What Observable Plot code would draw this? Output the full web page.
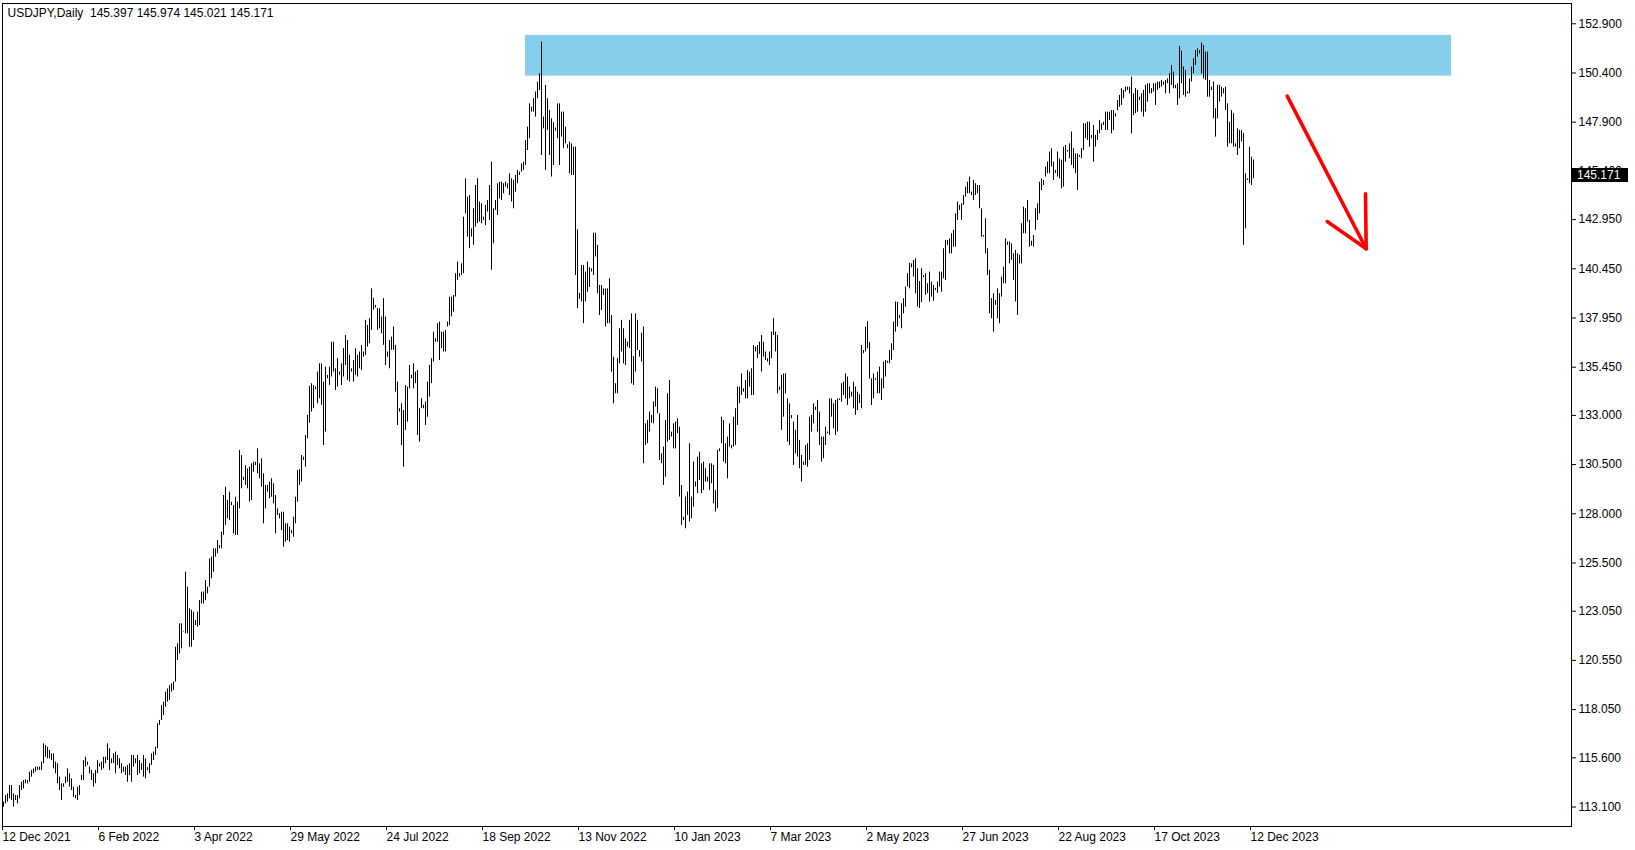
<!DOCTYPE html>
<html><head><meta charset="utf-8">
<script src="https://cdn.jsdelivr.net/npm/d3@7"></script>
<script src="https://cdn.jsdelivr.net/npm/@observablehq/plot@0.6"></script>
<style>
html,body{margin:0;padding:0;background:#fff;}
#chart{width:1635px;height:850px;overflow:hidden;}
svg text{white-space:pre;}
</style></head><body><div id="chart"></div>
<script>
// ---- data ----
const symbol = "USDJPY,Daily";
const lastBar = {open:145.397, high:145.974, low:145.021, close:145.171};

// daily highs / lows, one per bar, from 12 Dec 2021 onward
const highs = [
113.35,113.69,113.77,114.19,114.19,113.77,113.69,113.69,114.19,114.36,114.45,114.48,
114.45,114.87,114.96,115.04,115.13,115.13,115.13,115.38,116.31,116.23,116.14,115.97,
115.80,115.80,115.38,115.30,114.62,114.28,114.28,114.62,115.04,114.79,114.53,114.11,
113.69,114.11,114.19,114.70,115.46,115.63,115.38,115.13,114.96,114.79,114.96,115.46,
115.30,115.38,115.63,115.63,116.31,116.06,115.55,115.80,115.89,115.72,115.55,115.30,
115.13,115.13,115.21,115.30,115.72,115.72,115.55,115.72,115.46,115.30,115.72,115.55,
115.10,115.30,115.80,115.89,116.14,117.33,117.50,118.26,118.43,118.94,119.10,119.27,
119.36,119.44,121.22,121.39,122.41,122.41,122.02,125.03,124.27,123.17,123.09,123.00,
122.58,123.00,123.59,124.02,124.02,124.61,124.27,125.71,125.80,126.22,126.22,126.64,
126.39,127.07,128.93,129.35,128.68,129.10,128.59,128.42,128.84,128.59,131.22,130.96,
129.86,130.45,130.28,130.37,130.54,130.62,130.62,131.30,130.54,130.79,130.03,129.44,
129.44,129.61,129.78,129.52,128.93,128.25,128.00,128.08,128.08,127.49,127.49,127.32,
127.15,127.83,128.84,130.20,130.24,130.96,130.88,131.98,133.00,134.48,134.61,134.52,
134.44,135.20,135.62,135.62,134.69,135.45,135.03,135.45,136.72,136.72,135.37,135.88,
135.20,135.62,136.39,137.06,136.81,136.05,135.37,135.79,136.39,136.05,136.22,136.56,
136.22,137.83,137.57,137.91,139.43,138.95,138.59,138.42,138.42,138.00,138.93,138.00,
136.22,136.81,136.98,137.49,136.56,134.69,133.34,133.59,133.25,134.52,134.44,135.54,
135.03,135.62,135.20,135.28,133.34,133.85,133.51,133.68,134.69,135.54,135.88,137.23,
136.89,137.66,137.74,137.23,137.23,137.32,137.74,139.01,139.01,139.09,140.20,140.79,
140.20,140.70,143.07,145.02,144.09,144.17,142.48,143.50,144.68,145.02,143.84,143.75,
143.07,143.67,143.92,144.68,145.87,143.50,143.92,144.77,144.85,144.85,144.77,144.85,
144.77,145.28,145.02,144.94,145.19,145.45,145.36,145.78,145.87,146.97,147.65,148.83,
148.66,149.09,149.43,149.93,150.36,151.97,148.16,149.77,149.09,148.49,148.07,147.87,
147.60,148.83,148.83,148.41,148.41,147.65,146.75,146.89,146.80,146.63,146.63,142.43,
139.20,140.62,140.62,140.28,140.79,140.50,140.45,142.26,142.26,141.64,139.60,139.60,
139.43,139.43,139.43,139.94,138.08,135.96,134.61,135.88,137.40,137.83,137.40,136.89,
136.72,137.83,138.16,135.99,138.16,137.83,136.30,137.18,137.49,132.57,132.74,133.17,
133.00,133.68,134.44,134.35,133.08,131.05,131.39,132.74,134.10,134.78,132.15,132.57,
132.66,132.83,132.40,129.44,127.83,128.85,129.10,131.56,128.85,130.63,129.61,130.88,
131.13,130.54,130.63,130.29,129.86,130.54,130.54,130.46,129.19,131.22,131.30,132.91,
132.74,131.56,131.90,132.57,131.47,132.91,133.34,134.44,134.44,135.11,134.35,134.78,
135.28,135.20,135.37,136.55,136.47,136.55,136.72,137.06,136.72,136.22,135.88,136.22,
137.23,137.91,137.23,137.06,134.44,135.03,135.11,135.11,133.84,133.59,132.99,132.66,
132.24,133.00,131.73,130.97,130.63,131.47,131.56,132.91,133.00,133.59,133.42,133.76,
133.17,131.90,131.90,132.40,132.15,133.84,133.84,133.59,133.76,133.84,133.84,134.61,
134.69,135.11,134.95,134.44,134.18,134.69,134.44,134.18,134.05,136.55,136.30,137.49,
137.77,136.70,134.86,135.11,134.86,135.20,135.45,134.86,135.71,135.79,135.75,136.30,
136.64,137.74,138.76,138.75,138.08,138.67,138.93,139.52,140.20,140.73,140.70,140.87,
140.96,140.45,139.80,140.45,140.10,140.20,139.69,140.28,139.77,139.60,139.45,139.77,
140.28,140.28,141.47,141.89,141.89,141.97,142.23,142.40,143.24,143.84,143.67,143.75,
144.17,144.60,144.85,145.11,144.35,144.94,144.77,144.68,144.68,143.50,142.14,142.99,
141.47,140.37,138.93,139.18,138.84,139.43,139.18,140.03,140.53,141.97,141.81,141.81,
141.72,141.21,141.38,141.21,141.13,142.74,143.58,143.50,143.92,142.91,141.85,142.14,
143.50,143.75,144.85,145.02,144.94,145.62,145.87,146.38,146.55,145.87,145.45,146.38,
146.04,145.96,146.63,146.72,146.46,146.80,147.40,146.55,146.29,146.29,146.21,146.55,
147.82,147.82,147.90,147.90,147.23,147.73,147.23,147.48,147.99,147.82,147.90,148.41,
148.41,148.41,148.49,148.49,148.33,149.00,149.26,149.60,149.51,149.68,149.68,149.68,
150.19,149.34,149.60,149.51,149.17,149.34,149.51,149.77,149.85,149.85,149.60,149.85,
149.85,149.94,149.94,150.02,149.94,150.02,150.10,150.36,150.78,150.44,149.77,149.85,
151.75,151.51,150.70,150.53,149.43,150.10,150.70,151.12,151.54,151.63,151.54,151.92,
151.80,151.46,151.46,150.02,149.68,149.94,148.58,149.77,149.77,149.68,149.60,149.68,
148.83,147.90,148.49,148.33,146.80,147.56,147.48,147.48,147.31,145.28,145.02,146.63,
146.12,145.974];

const lows = [
113.09,113.26,113.35,113.52,113.43,113.09,113.43,113.26,113.52,113.94,114.02,114.28,
114.28,114.36,114.62,114.79,114.87,114.96,114.96,114.96,115.30,115.63,115.55,115.55,
115.46,115.04,114.79,114.28,113.94,113.43,114.11,114.28,114.36,114.11,113.94,113.60,
113.52,113.43,113.69,114.45,114.45,115.13,115.21,114.79,114.45,114.11,114.28,114.79,
115.13,114.96,115.04,115.30,115.46,114.96,115.30,115.30,114.79,115.21,115.04,114.79,
114.87,114.70,114.36,114.70,114.36,115.13,115.30,114.70,114.79,114.96,114.62,114.53,
114.95,114.79,115.21,115.46,115.72,116.06,117.24,117.50,117.75,118.17,118.43,118.51,
118.94,119.02,119.44,120.54,120.88,121.14,121.99,121.90,121.90,121.22,121.22,121.56,
122.32,122.24,122.32,123.42,123.42,123.59,123.93,124.27,124.70,125.03,125.80,125.97,
126.22,126.22,126.90,127.41,127.74,127.66,128.42,126.98,126.90,126.90,128.25,129.27,
129.69,129.44,129.27,128.59,128.68,130.11,130.45,130.03,129.78,129.35,127.49,128.25,
129.10,128.76,128.84,128.51,126.98,127.91,127.74,127.15,126.30,126.56,126.64,126.56,
126.98,126.81,127.49,128.59,129.44,129.61,130.71,130.37,131.81,132.60,133.17,133.34,
134.30,133.59,133.85,133.51,131.47,132.15,134.86,134.52,134.95,135.20,134.27,134.44,
135.03,134.52,134.95,135.54,134.78,134.69,135.20,134.69,135.03,134.95,135.37,135.29,
135.96,136.05,136.47,136.64,137.32,138.35,138.45,137.32,137.40,137.15,136.56,135.54,
135.96,135.37,136.30,136.30,134.18,132.49,133.17,131.47,130.37,132.24,132.66,134.35,
134.86,134.35,134.61,131.98,131.64,133.34,133.34,132.49,132.91,133.93,134.61,135.71,
136.72,136.72,135.79,136.39,136.22,136.22,137.49,137.57,138.00,138.25,139.01,139.86,
140.03,140.11,140.20,143.24,142.06,141.47,142.06,141.64,142.57,142.74,142.82,142.74,
142.91,142.65,143.33,142.91,140.37,141.72,143.41,143.16,144.00,143.92,144.26,144.60,
144.51,144.17,143.84,143.50,144.34,144.77,145.19,145.36,145.45,145.70,146.46,147.06,
148.41,148.41,148.16,149.09,149.51,146.21,147.56,145.45,147.48,146.21,145.11,145.70,
147.45,147.06,145.70,147.14,146.55,146.80,146.55,145.28,145.19,145.19,140.11,138.42,
138.90,138.76,137.66,138.76,139.26,139.50,140.28,140.11,141.05,139.18,138.08,138.33,
139.09,137.49,137.66,137.66,135.20,133.59,134.10,134.10,135.62,136.22,135.62,135.54,
136.47,136.39,134.61,134.52,135.20,136.30,135.96,135.71,130.54,131.47,131.56,132.15,
132.60,132.57,133.42,133.08,130.71,130.54,129.44,129.86,131.64,131.73,131.90,131.30,
131.30,132.07,128.85,127.41,127.66,127.24,127.92,127.58,127.75,128.34,129.36,129.02,
129.69,129.02,129.19,129.61,129.61,129.19,129.52,128.51,128.09,128.26,131.15,131.56,
130.63,130.54,129.78,131.39,131.30,131.39,131.47,132.49,133.59,134.01,134.18,133.84,
133.84,134.44,134.01,134.01,136.22,135.88,136.10,135.20,135.96,135.79,135.71,135.54,
135.88,137.06,136.22,134.10,134.27,132.24,132.91,134.10,131.64,131.47,132.83,130.46,
131.05,130.88,130.29,129.61,130.46,130.46,130.37,130.71,132.15,132.57,133.25,132.15,
131.47,130.63,130.80,131.47,132.07,131.98,132.91,132.32,131.98,132.15,133.76,133.67,
134.01,133.84,133.50,133.84,133.93,133.34,133.00,133.25,133.60,133.34,136.13,136.22,
136.39,134.85,133.50,133.84,134.78,134.10,134.10,133.76,134.35,134.95,135.65,135.62,
135.80,136.30,137.23,137.49,137.91,137.40,138.16,138.50,139.52,139.43,140.50,140.03,
139.18,138.50,138.43,138.73,140.00,139.10,139.18,138.76,139.01,138.80,139.35,139.20,
139.52,139.26,139.94,139.86,141.64,141.21,141.21,141.55,141.55,142.91,143.41,142.91,
143.67,144.09,144.26,144.26,144.17,143.92,144.17,144.26,143.50,142.06,142.06,141.21,
140.11,138.16,137.91,137.23,138.59,137.91,137.66,139.01,139.69,139.69,141.64,140.70,
140.87,139.86,138.76,138.08,140.70,140.70,142.23,142.23,142.82,141.55,141.60,141.55,
142.40,142.91,143.24,144.43,144.68,145.11,145.28,145.28,145.62,144.94,145.28,145.11,
145.02,144.51,144.60,145.87,146.38,146.04,145.70,145.53,145.28,144.43,146.12,146.04,
146.46,147.06,146.97,146.63,147.06,145.87,146.63,146.97,147.31,147.48,147.73,147.48,
147.48,147.99,147.31,147.48,148.16,148.49,148.66,148.75,149.09,149.43,149.51,149.34,
147.31,148.24,148.33,148.41,149.00,148.41,148.16,148.41,148.92,149.34,149.34,149.43,
148.75,149.51,149.60,149.68,149.77,149.34,149.85,149.34,149.77,149.60,149.60,148.75,
149.09,149.85,149.26,149.17,149.34,149.34,149.94,150.36,150.78,151.21,151.37,150.36,
150.10,150.02,149.17,149.17,149.51,148.07,147.14,148.07,148.92,149.17,149.34,148.49,
146.63,146.80,146.80,146.63,146.63,146.21,146.55,146.89,141.64,142.48,144.94,144.77,
144.68,145.021];

// date labels along the time axis (bar index where each label sits)
const dateTickIndex = [0,48,96,144,192,240,288,336,384,432,480,528,576,624];
const dateTickLabels = ["12 Dec 2021","6 Feb 2022","3 Apr 2022","29 May 2022","24 Jul 2022","18 Sep 2022",
  "13 Nov 2022","10 Jan 2023","7 Mar 2023","2 May 2023","27 Jun 2023","22 Aug 2023","17 Oct 2023","12 Dec 2023"];

// price labels on the right scale
const priceTicks = [152.9,150.4,147.9,145.4,142.95,140.45,137.95,135.45,133.0,130.5,128.0,125.5,123.05,120.55,118.05,115.6,113.1];

// resistance zone (bar index range, price range)
const zone = [{from:261, to:724, low:150.24, high:152.31}];

// hand-drawn red arrow (bar index, price)
const arrowSegments = [
  {i1:641.85, p1:149.22, i2:681.35, p2:141.47},
  {i1:661.85, p1:142.85, i2:681.35, p2:141.47},
  {i1:681.0,  p1:144.26, i2:681.35, p2:141.47}
];

// ---- build ----
const bars = highs.map((h, i) => ({i, high:h, low:lows[i]}));
const W = 1635, H = 850, mL = 2, mR = 64, mT = 3, mB = 24;
const font = "Liberation Sans, Arial, sans-serif";

const plot = Plot.plot({
  width: W, height: H,
  marginLeft: mL, marginRight: mR, marginTop: mT, marginBottom: mB,
  style: {fontFamily: font, fontSize: "12px", color: "#000", background: "#fff", overflow: "visible"},
  x: {domain: [-0.5, 784], axis: null},
  y: {domain: [112.11, 153.93], axis: null},
  marks: [
    Plot.rect(zone, {x1: "from", x2: "to", y1: "low", y2: "high", fill: "#87CEEB"}),
    Plot.ruleX(bars, {x: "i", y1: "low", y2: "high", stroke: "#000", strokeWidth: 1}),
    Plot.link(arrowSegments, {x1: "i1", y1: "p1", x2: "i2", y2: "p2", stroke: "#ff0000", strokeWidth: 3.6, strokeLinecap: "round"}),
    Plot.frame({stroke: "#000"}),
    Plot.axisY(priceTicks, {anchor: "right", tickSize: 4, tickPadding: 3, tickFormat: d3.format(".3f"), label: null, fontSize: 12}),
    Plot.axisX(dateTickIndex, {anchor: "bottom", tickSize: 4, tickPadding: 2, textAnchor: "start", dx: -1,
      tickFormat: d => dateTickLabels[dateTickIndex.indexOf(d)], label: null, fontSize: 12}),
    Plot.text([`${symbol}  ${lastBar.open.toFixed(3)} ${lastBar.high.toFixed(3)} ${lastBar.low.toFixed(3)} ${lastBar.close.toFixed(3)}`],
      {frameAnchor: "top-left", dx: 5, dy: 5, fontSize: 12, fill: "#000"})
  ]
});

// current price label box on the price scale
const yScale = plot.scale("y");
const yc = yScale.apply(lastBar.close);
const g = d3.select(plot).append("g");
g.append("rect").attr("x", W - mR + 1).attr("y", Math.round(yc) - 7).attr("width", 56).attr("height", 14).attr("fill", "#000");
g.append("text").attr("x", W - mR + 6).attr("y", Math.round(yc)).attr("dy", "0.36em")
  .attr("text-anchor", "start")
  .attr("fill", "#fff").attr("font-family", font).attr("font-size", 12).text(lastBar.close.toFixed(3));

document.getElementById("chart").appendChild(plot);
</script>
</body></html>
